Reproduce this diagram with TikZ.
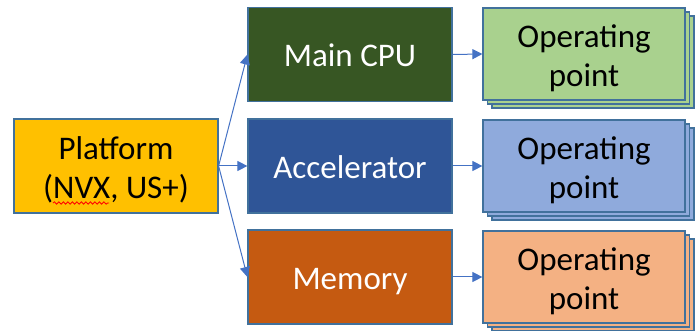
\documentclass[tikz,border=0pt]{standalone}
\usepackage{fontspec}
\setmainfont{Carlito}
\usetikzlibrary{arrows.meta,decorations.pathmorphing}
\definecolor{edgeblue}{HTML}{41719C}
\definecolor{linkblue}{HTML}{4472C4}
\definecolor{platfill}{HTML}{FFC000}
\definecolor{cpufill}{HTML}{375623}
\definecolor{accfill}{HTML}{2F5597}
\definecolor{memfill}{HTML}{C55A11}
\definecolor{opgreen}{HTML}{A9D18E}
\definecolor{opblue}{HTML}{8FAADC}
\definecolor{oporange}{HTML}{F4B183}
% struts giving every text line the same ascent/descent
\newcommand{\topline}{\rule{0pt}{1em}}
\newcommand{\botline}{\rule[-0.21em]{0pt}{0.21em}}
\tikzset{
  block/.style={draw=edgeblue, line width=1.2pt, rectangle, inner sep=0pt,
    minimum width=204pt, minimum height=94pt, align=center,
    font=\fontsize{33}{39.5}\selectfont},
  oneline/.style={text height=29.7pt, text depth=4.9pt},
  darkblock/.style={block, oneline, text=white},
  opbox/.style={draw=edgeblue, line width=1.2pt, rectangle, inner sep=0pt,
    minimum width=202pt, minimum height=92pt, align=center,
    font=\fontsize{33}{39.5}\selectfont},
  link/.style={draw=linkblue, line width=1pt, -{Triangle[length=10pt,width=10pt]}},
}
\begin{document}
\begin{tikzpicture}[x=1pt,y=-1pt]
\useasboundingbox (0,0) rectangle (699,331);

% source platform
\node[block, fill=platfill] (plat) at (116,166)
  {\topline Platform\\(NVX, US+)\botline};
% spell-check squiggle under NVX
\draw[red, line width=0.8pt, decorate,
  decoration={snake, amplitude=1.2pt, segment length=4.5pt}]
  (53,203) -- (109,203);

% components
\node[darkblock, fill=cpufill] (cpu) at (350,54.5) {Main CPU};
\node[darkblock, fill=accfill] (acc) at (350,166) {Accelerator};
\node[darkblock, fill=memfill] (mem) at (350,277) {Memory};

% stacked operating points (two shadow sheets behind each)
\foreach \cy/\col/\nm in {54/opgreen/opcpu, 166/opblue/opacc, 277/oporange/opmem}{
  \node[opbox, fill=\col] at (584+9,\cy+8) {};
  \node[opbox, fill=\col] at (584+4.5,\cy+4) {};
  \node[opbox, fill=\col] (\nm) at (584,\cy) {\topline Operating\\point\botline};
}

% connectors
\draw[link] (plat.east) -- (cpu.west);
\draw[link] (plat.east) -- (acc.west);
\draw[link] (plat.east) -- (mem.west);
\draw[link] (cpu.east) -- (opcpu.west);
\draw[link] (acc.east) -- (opacc.west);
\draw[link] (mem.east) -- (opmem.west);
\end{tikzpicture}
\end{document}
